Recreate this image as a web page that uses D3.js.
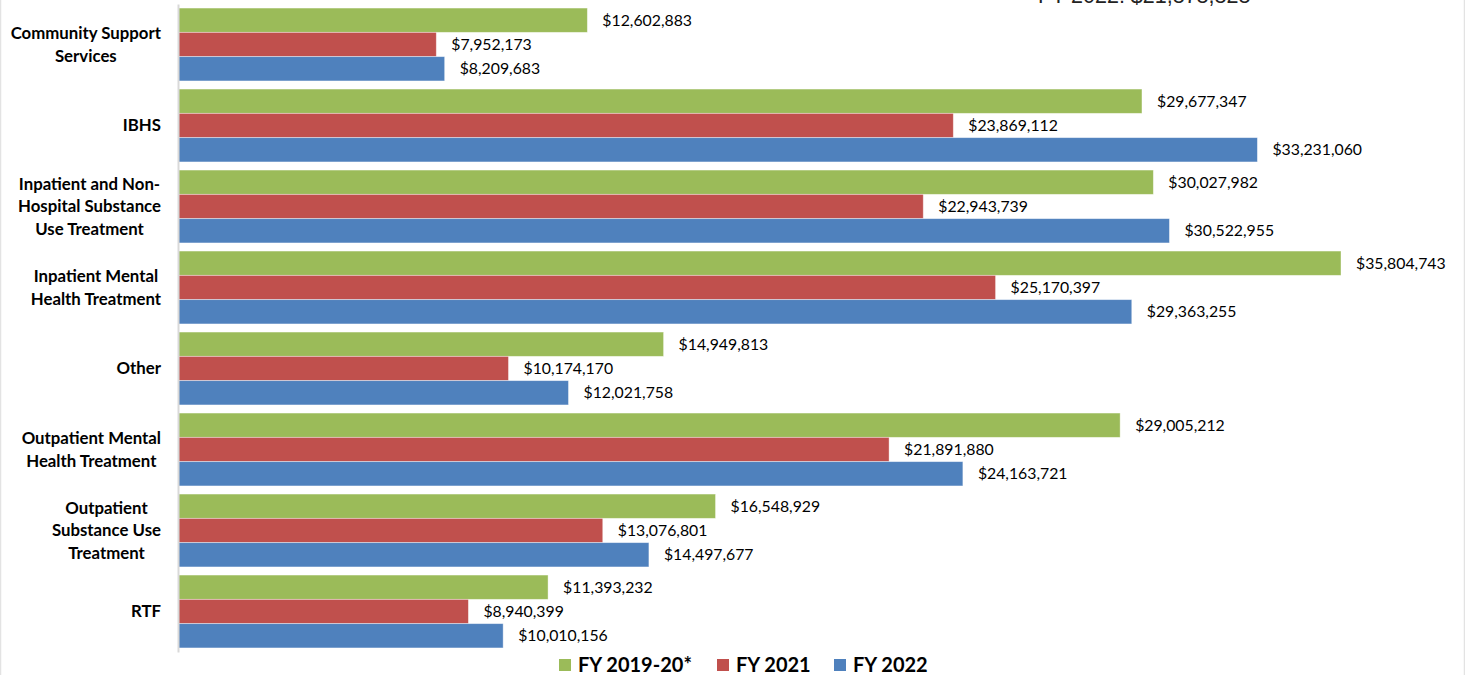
<!DOCTYPE html>
<html><head><meta charset="utf-8">
<script src="https://cdn.jsdelivr.net/npm/d3@7"></script>
<style>html,body{margin:0;padding:0;background:#fff;}svg{display:block;}</style>
</head><body>
<svg id="c" width="1465" height="675"></svg>
<script>
const categories = ["Community Support\nServices","IBHS","Inpatient and Non-\nHospital Substance\nUse Treatment","Inpatient Mental\nHealth Treatment","Other","Outpatient Mental\nHealth Treatment","Outpatient\nSubstance Use\nTreatment","RTF"];
const seriesNames = ["FY 2019-20*","FY 2021","FY 2022"];
const fy2019 = [12602883,29677347,30027982,35804743,14949813,29005212,16548929,11393232];
const fy2021 = [7952173,23869112,22943739,25170397,10174170,21891880,13076801,8940399];
const fy2022 = [8209683,33231060,30522955,29363255,12021758,24163721,14497677,10010156];
const seriesColors = ["#9BBB59","#C0504D","#4F81BD"];
const topNote = "FY 2022: $21,878,828";

const series = [fy2019, fy2021, fy2022];
const svg = d3.select("#c");
const W = 1465, H = 675;

svg.append("rect").attr("x",0.5).attr("y",-1).attr("width",W-1).attr("height",H+2)
  .attr("fill","#fff").attr("stroke","#e3e3e3").attr("stroke-width",1.5);

const x0 = 178;
const x = d3.scaleLinear().domain([0, 35804743]).range([x0, 1341]);
const y = d3.scaleBand().domain(d3.range(categories.length)).range([4, 652])
  .paddingInner(0.1).paddingOuter(0.05);
const ys = d3.scaleBand().domain(d3.range(series.length)).range([0, y.bandwidth()]);

svg.append("text").attr("x", 1038).attr("y", 3).attr("font-family","Liberation Sans, Arial, sans-serif")
  .attr("font-size", 21.5).attr("fill","#222").text(topNote);

const g = svg.append("g");
categories.forEach((cat, i) => {
  series.forEach((s, j) => {
    const by = y(i) + ys(j);
    g.append("rect").attr("x", x(0)).attr("y", by)
      .attr("width", x(s[i]) - x(0)).attr("height", ys.bandwidth())
      .attr("fill", seriesColors[j]).attr("stroke","#fff").attr("stroke-opacity",0.5).attr("stroke-width",0.8);
    g.append("text").attr("x", x(s[i]) + 15).attr("y", by + ys.bandwidth()/2)
      .attr("dy","0.35em").attr("font-family","Lato, 'Open Sans', sans-serif").attr("font-size",15.8)
      .attr("fill","#000").text(d3.format("$,")(s[i]));
  });
});

// axis
const axis = d3.axisLeft(y).tickSize(0).tickFormat("");
const ag = svg.append("g").attr("transform",`translate(${x0},0)`).call(axis);
ag.select(".domain").attr("stroke","#d9d9d9").attr("stroke-width",2);

categories.forEach((cat, i) => {
  const lines = cat.split("\n");
  const cy = y(i) + y.bandwidth()/2;
  const lh = 22.5;
  const t = svg.append("text").attr("text-anchor","middle")
    .attr("font-family","Lato, 'Open Sans', sans-serif").attr("font-weight","bold").attr("font-size",16.8)
    .attr("fill","#000");
  const spans = lines.map((ln, k) =>
    t.append("tspan").attr("y", cy + (k - (lines.length-1)/2)*lh).attr("dy","0.35em").text(ln));
  const maxW = d3.max(spans, s => s.node().getComputedTextLength());
  spans.forEach(s => s.attr("x", 161 - maxW/2));
});

// legend
const legX = [559, 717, 834];
const lg = svg.append("g");
seriesNames.forEach((n, j) => {
  lg.append("rect").attr("x", legX[j]).attr("y", 659).attr("width", 12).attr("height", 12).attr("fill", seriesColors[j]);
  lg.append("text").attr("x", legX[j] + 19).attr("y", 665).attr("dy","0.36em")
    .attr("font-family","Lato, 'Open Sans', sans-serif").attr("font-weight","bold").attr("font-size",20)
    .attr("fill","#000").text(n);
});
</script>
</body></html>
